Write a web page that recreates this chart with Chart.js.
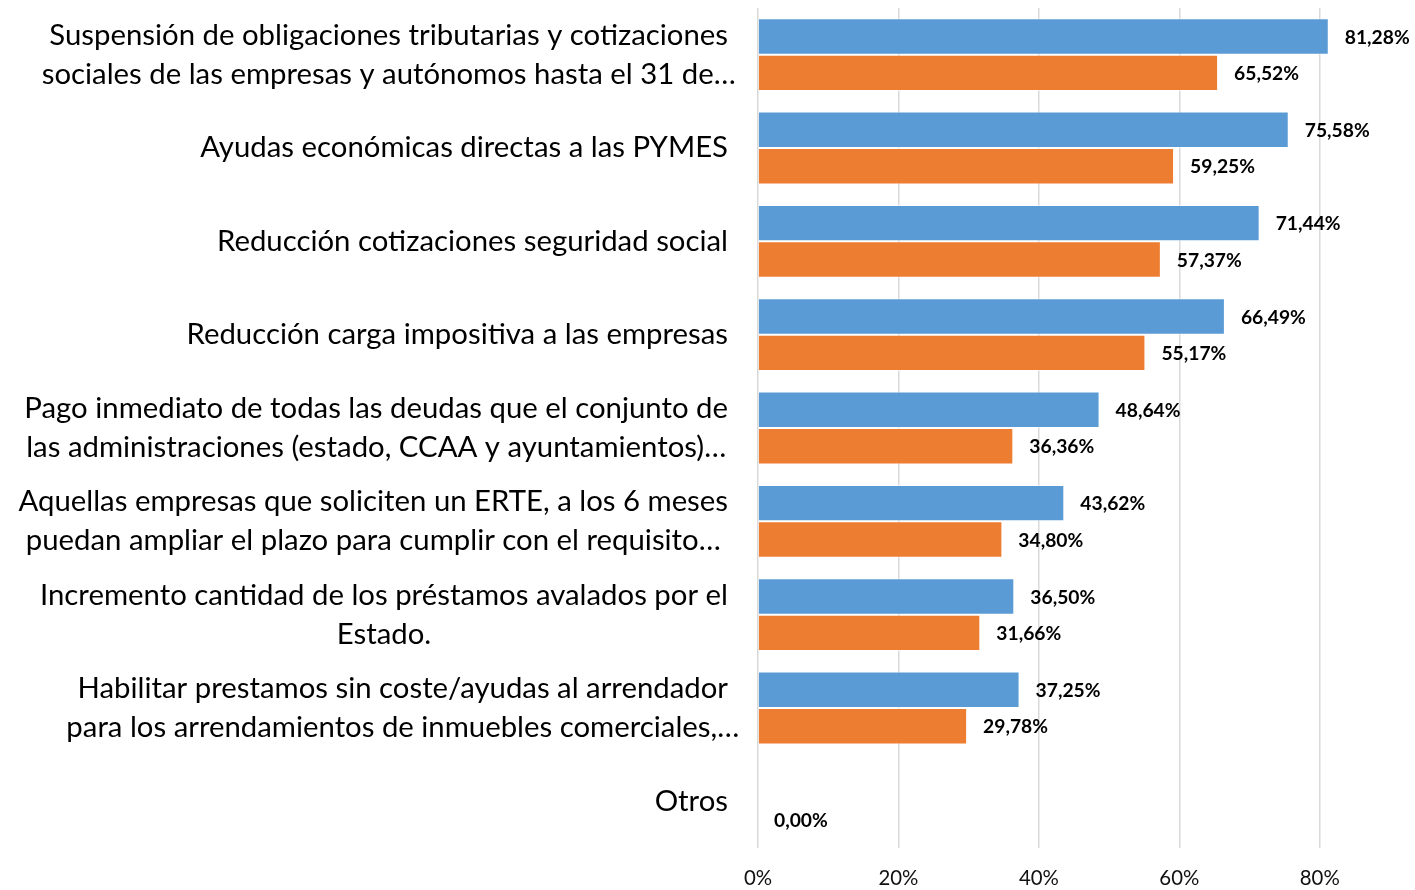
<!DOCTYPE html>
<html><head><meta charset="utf-8">
<script src="https://cdn.jsdelivr.net/npm/chart.js@4.4.1/dist/chart.umd.min.js"></script>
<style>html,body{margin:0;padding:0;background:#fff;} #wrap{width:1415px;height:890px;position:relative;}</style>
</head><body><div id="wrap"><canvas id="c" width="1415" height="890"></canvas></div>
<script>
// ---- data ----
const categories = [
  ["Suspensión de obligaciones tributarias y cotizaciones", "sociales de las empresas y autónomos hasta el 31 de…"],
  ["Ayudas económicas directas a las PYMES"],
  ["Reducción cotizaciones seguridad social"],
  ["Reducción carga impositiva a las empresas"],
  ["Pago inmediato de todas las deudas que el conjunto de", "las administraciones (estado, CCAA y ayuntamientos)…"],
  ["Aquellas empresas que soliciten un ERTE, a los 6 meses", "puedan ampliar el plazo para cumplir con el requisito…"],
  ["Incremento cantidad de los préstamos avalados por el", "Estado."],
  ["Habilitar prestamos sin coste/ayudas al arrendador", "para los arrendamientos de inmuebles comerciales,…"],
  ["Otros"]
];
const serieAzul = [81.28, 75.58, 71.44, 66.49, 48.64, 43.62, 36.50, 37.25, null];
const serieNaranja = [65.52, 59.25, 57.37, 55.17, 36.36, 34.80, 31.66, 29.78, 0.00];
const tickValues = [0, 20, 40, 60, 80];

// ---- fonts sized to match reference text widths ----
const FONT = 'Lato, "Open Sans", sans-serif';
const mctx = document.createElement('canvas').getContext('2d');
function fit(text, target, weight) {
  mctx.font = weight + ' 100px ' + FONT;
  return 100 * target / mctx.measureText(text).width;
}
const catSize = fit("Ayudas económicas directas a las PYMES", 528, 'normal');
const dlSize = fit("81,28%", 65, 'bold');
const tickSize = fit("80%", 40, 'normal');

const fmt = v => v.toFixed(2).replace('.', ',') + '%';

const catLabelPlugin = {
  id: 'catLabels',
  afterDraw(chart) {
    const ctx = chart.ctx, ys = chart.scales.y;
    ctx.save();
    ctx.font = 'normal ' + catSize + 'px ' + FONT;
    ctx.fillStyle = '#000';
    ctx.textBaseline = 'middle';
    ctx.textAlign = 'center';
    const lineH = 39, right = 728;
    chart.data.labels.forEach((lines, i) => {
      const yc = ys.getPixelForValue(i);
      const w1 = ctx.measureText(lines[0]).width;
      const cx = right - w1 / 2;
      const y0 = yc - (lines.length - 1) * lineH / 2;
      lines.forEach((ln, k) => ctx.fillText(ln, cx, y0 + k * lineH));
    });
    ctx.restore();
  }
};

const dataLabelPlugin = {
  id: 'dataLabels',
  afterDatasetsDraw(chart) {
    const ctx = chart.ctx;
    ctx.save();
    ctx.font = 'bold ' + dlSize + 'px ' + FONT;
    ctx.fillStyle = '#000';
    ctx.textBaseline = 'middle';
    ctx.textAlign = 'left';
    chart.data.datasets.forEach((ds, di) => {
      const meta = chart.getDatasetMeta(di);
      meta.data.forEach((el, i) => {
        const v = ds.data[i];
        if (v === null || v === undefined) return;
        ctx.fillText(fmt(v), el.x + 16, el.y + 1);
      });
    });
    ctx.restore();
  }
};

new Chart(document.getElementById('c'), {
  type: 'bar',
  data: {
    labels: categories,
    datasets: [
      { label: 'Serie 1', data: serieAzul, backgroundColor: '#5B9BD5', borderColor: 'rgba(255,255,255,0.55)', borderWidth: 1,
        categoryPercentage: 0.78, barPercentage: 1.0 },
      { label: 'Serie 2', data: serieNaranja, backgroundColor: '#ED7D31', borderColor: 'rgba(255,255,255,0.55)', borderWidth: 1,
        categoryPercentage: 0.78, barPercentage: 1.0 }
    ]
  },
  options: {
    indexAxis: 'y',
    responsive: false,
    animation: false,
    devicePixelRatio: 1,
    layout: { padding: { top: 8, right: 25, left: 0, bottom: 0 } },
    plugins: { legend: { display: false }, tooltip: { enabled: false } },
    scales: {
      x: {
        min: 0, max: 90,
        grid: { color: '#d9d9d9', lineWidth: 1.5, drawTicks: false },
        border: { display: false },
        afterBuildTicks: s => { s.ticks = tickValues.map(v => ({ value: v })); },
        afterFit: s => { s.height = 42; },
        ticks: {
          padding: 18,
          color: '#111',
          font: { family: FONT, size: tickSize },
          callback: v => v + '%'
        }
      },
      y: {
        grid: { display: false, drawTicks: false },
        border: { display: false },
        ticks: { display: false },
        afterFit: s => { s.width = 758; }
      }
    }
  },
  plugins: [catLabelPlugin, dataLabelPlugin]
});
</script>
</body></html>
